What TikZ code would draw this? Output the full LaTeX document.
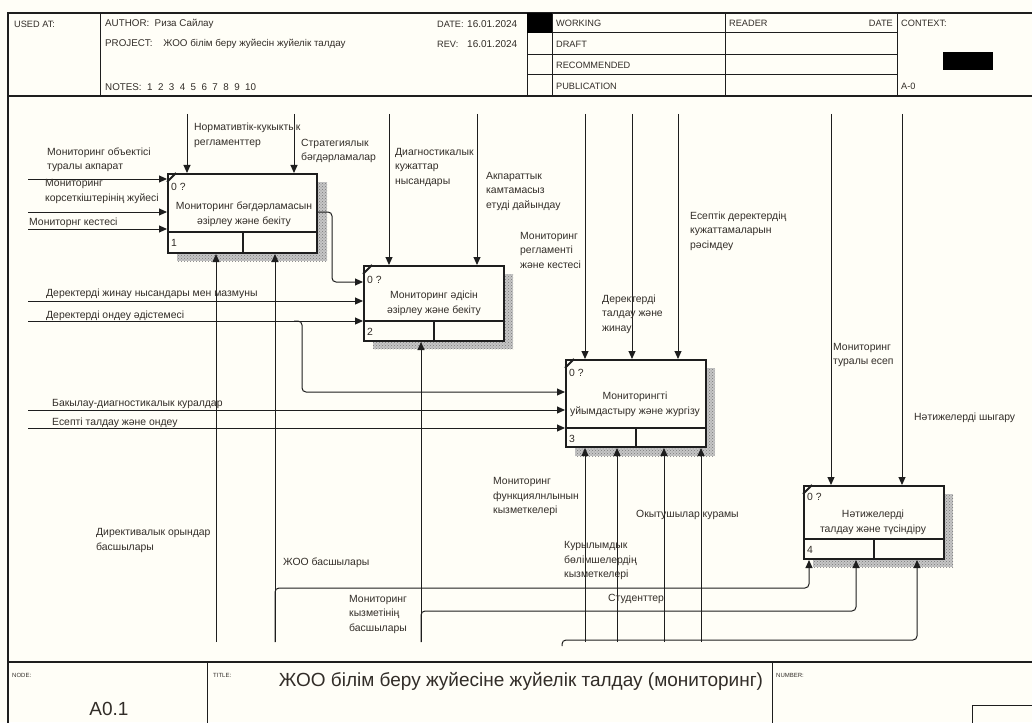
\documentclass[tikz,border=0pt]{standalone}
\usepackage{fontspec}
\setmainfont{Liberation Sans}
\usetikzlibrary{arrows.meta,patterns}
\definecolor{bg}{RGB}{255,254,247}
\definecolor{ink}{RGB}{30,30,30}
\definecolor{txt}{RGB}{50,45,40}
\begin{document}
\begin{tikzpicture}[x=1pt,y=-1pt,
  frame/.style={draw=ink,line width=1.3pt},
  thinl/.style={draw=ink,line width=1pt},
  box/.style={draw=ink,line width=2pt,fill=bg,inner sep=0pt,anchor=north west},
  divl/.style={draw=ink,line width=2pt},
  shdA/.style={fill=gray!45},
  shdB/.style={pattern=crosshatch dots,pattern color=gray!95!black},
  arr/.style={draw=ink,line width=1pt,-{Triangle[length=8pt,width=7pt]},rounded corners=4pt},
  lbl/.style={font=\fontsize{10.4}{14.5}\selectfont,text=txt,anchor=west,inner sep=0pt,align=left},
  btxt/.style={font=\fontsize{10.4}{15}\selectfont,text=txt,inner sep=0pt,align=center},
  hd/.style={font=\fontsize{9.2}{11}\selectfont,text=txt,anchor=west,inner sep=0pt},
  hdw/.style={font=\fontsize{9.8}{11}\selectfont,text=txt,anchor=west,inner sep=0pt},
  hdv/.style={font=\fontsize{10}{11}\selectfont,text=txt,anchor=west,inner sep=0pt},
  tinyl/.style={font=\fontsize{6}{7}\selectfont,text=txt,anchor=west,inner sep=0pt},
]
\fill[bg] (0,0) rectangle (1032,722);
\useasboundingbox (0,0) rectangle (1032,722);
\clip (0,0) rectangle (1032,722);

% ---------- frame and header ----------
\draw[frame] (1040,13) -- (8,13) -- (8,730);
\draw[frame] (8,96) -- (1040,96);
\draw[thinl] (100,13) -- (100,96);
\draw[thinl] (527,13) -- (527,96);
\draw[thinl] (552,13) -- (552,96);
\draw[thinl] (725,13) -- (725,96);
\draw[thinl] (897,13) -- (897,96);
\draw[thinl] (527,33) -- (897,33);
\draw[thinl] (527,55) -- (897,55);
\draw[thinl] (527,75) -- (897,75);
\fill[black] (527,13) rectangle (552,33);
\fill[black] (943,52) rectangle (993,70);

\node[hd] (usedat) at (14,24) {USED AT:};
\node[hdw] (author) at (105,24) {AUTHOR:\ \ Риза Сайлау};
\node[hdw] (project) at (105,44) {PROJECT:\ \ \ \ ЖОО білім беру жуйесін жуйелік талдау};
\node[hdw] (notes) at (105,87) {NOTES:\ \ 1\ \ 2\ \ 3\ \ 4\ \ 5\ \ 6\ \ 7\ \ 8\ \ 9\ \ 10};
\node[hd] (datel) at (437,24) {DATE:};
\node[hdv] (datev) at (467,24) {16.01.2024};
\node[hd] (revl) at (437,44) {REV:};
\node[hdv] (revv) at (467,44) {16.01.2024};
\node[hd] (working) at (556,23.5) {WORKING};
\node[hd] (draft) at (556,44.5) {DRAFT};
\node[hd] (recom) at (556,65.5) {RECOMMENDED};
\node[hd] (publ) at (556,86) {PUBLICATION};
\node[hd] (reader) at (729,23.5) {READER};
\node[hd,anchor=east] (rdate) at (893,23.5) {DATE};
\node[hd] (context) at (901,23.5) {CONTEXT:};
\node[hd] (azero) at (901,86.5) {A-0};

% ---------- footer ----------
\draw[frame] (8,662) -- (1040,662);
\draw[thinl] (207,662) -- (207,730);
\draw[thinl] (772,662) -- (772,730);
\draw[thinl] (972,730) -- (972,705) -- (1040,705);
\node[tinyl] (nodel) at (12,675) {NODE:};
\node[tinyl] (titlel) at (213,675) {TITLE:};
\node[tinyl] (numl) at (776,675) {NUMBER:};
\node[font=\fontsize{19}{21}\selectfont,text=txt,inner sep=0pt] (title) at (521,681) {ЖОО білім беру жуйесіне жуйелік талдау (мониторинг)};
\node[font=\fontsize{19}{21}\selectfont,text=txt,inner sep=0pt] (nodeid) at (109,709) {A0.1};

% ---------- shadows ----------
\foreach \a/\b/\c/\d in {177/182/327/261, 373/274/513/349, 575/368/715/456, 813/494/953/567}{
  \fill[shdA] (\a,\b) rectangle (\c,\d);
  \fill[shdB] (\a,\b) rectangle (\c,\d);
}

% ---------- boxes ----------
\node[box,minimum width=149pt,minimum height=79pt] (b1) at (167,173) {};
\node[box,minimum width=140pt,minimum height=75pt] (b2) at (363,265) {};
\node[box,minimum width=140pt,minimum height=87pt] (b3) at (565,359) {};
\node[box,minimum width=140pt,minimum height=73pt] (b4) at (803,485) {};

\draw[divl] (167,232) -- (316,232) (243,232) -- (243,252);
\draw[divl] (363,321) -- (503,321) (434,321) -- (434,340);
\draw[divl] (565,428) -- (705,428) (636,428) -- (636,446);
\draw[divl] (803,539) -- (943,539) (874,539) -- (874,558);
\draw[divl] (167,182) -- (176,173);
\draw[divl] (363,274) -- (372,265);
\draw[divl] (565,368) -- (574,359);
\draw[divl] (803,494) -- (812,485);

\node[lbl] (q1) at (171,187) {0 ?};
\node[lbl] (q2) at (367,280) {0 ?};
\node[lbl] (q3) at (569,373) {0 ?};
\node[lbl] (q4) at (807,497) {0 ?};
\node[lbl] (n1) at (171,243) {1};
\node[lbl] (n2) at (367,332) {2};
\node[lbl] (n3) at (569,439) {3};
\node[lbl] (n4) at (807,550) {4};

\node[btxt] (t1) at (244,214) {Мониторинг бәгдәрламасын\\әзірлеу және бекіту};
\node[btxt] (t2) at (434,303) {Мониторинг әдісін\\әзірлеу және бекіту};
\node[btxt] (t3) at (635,404.5) {Мониторингті\\уйымдастыру және жургізу};
\node[btxt] (t4) at (873,522) {Нәтижелерді\\талдау және түсіндіру};

% ---------- inputs ----------
\coordinate (i11) at (28,179);
\coordinate (i12) at (28,212);
\coordinate (i13) at (28,229);
\coordinate (i21) at (28,301);
\coordinate (i22) at (28,321);
\coordinate (i31) at (28,410);
\coordinate (i32) at (28,428);
\draw[arr] (i11) -- (i11 -| b1.west);
\draw[arr] (i12) -- (i12 -| b1.west);
\draw[arr] (i13) -- (i13 -| b1.west);
\draw[arr] (i21) -- (i21 -| b2.west);
\draw[arr] (i22) -- (i22 -| b2.west);
\draw[arr] (i31) -- (i31 -| b3.west);
\draw[arr] (i32) -- (i32 -| b3.west);
% output of box 1 into box 2
\coordinate (o1) at (316,212);
\coordinate (o1b) at (332,282);
\draw[arr] (o1) -| (o1b) -- (o1b -| b2.west);
% branch of input 22 into box 3
\coordinate (br1) at (294,321);
\coordinate (br1b) at (302,392);
\draw[arr] (br1) -| (br1b) -- (br1b -| b3.west);

% ---------- controls ----------
\coordinate (c11) at (187,114);
\coordinate (c12) at (294,114);
\coordinate (c21) at (389,114);
\coordinate (c22) at (477,114);
\coordinate (c31) at (585,114);
\coordinate (c32) at (632,114);
\coordinate (c33) at (678,114);
\coordinate (c41) at (831,114);
\coordinate (c42) at (902,114);
\draw[arr] (c11) -- (c11 |- b1.north);
\draw[arr] (c12) -- (c12 |- b1.north);
\draw[arr] (c21) -- (c21 |- b2.north);
\draw[arr] (c22) -- (c22 |- b2.north);
\draw[arr] (c31) -- (c31 |- b3.north);
\draw[arr] (c32) -- (c32 |- b3.north);
\draw[arr] (c33) -- (c33 |- b3.north);
\draw[arr] (c41) -- (c41 |- b4.north);
\draw[arr] (c42) -- (c42 |- b4.north);

% ---------- mechanisms ----------
\coordinate (m11) at (216,642);
\coordinate (m12) at (275,642);
\coordinate (m21) at (421,642);
\coordinate (m31) at (585,642);
\coordinate (m32) at (617,642);
\coordinate (m33) at (664,642);
\coordinate (m34) at (701,642);
\coordinate (m4s) at (562,646);
\coordinate (k41) at (809,588);
\coordinate (k42) at (856,611);
\coordinate (k43) at (917,640);
\draw[arr] (m11) -- (m11 |- b1.south);
\draw[arr] (m12) -- (m12 |- b1.south);
\draw[arr] (m21) -- (m21 |- b2.south);
\draw[arr] (m31) -- (m31 |- b3.south);
\draw[arr] (m32) -- (m32 |- b3.south);
\draw[arr] (m33) -- (m33 |- b3.south);
\draw[arr] (m34) -- (m34 |- b3.south);
\draw[arr] (m12) |- (k41) -- (k41 |- b4.south);
\draw[arr] (m21) |- (k42) -- (k42 |- b4.south);
\draw[arr] (m4s) |- (k43) -- (k43 |- b4.south);

% ---------- labels ----------
\node[lbl] (l1) at (47,160) {Мониторинг объектісі\\туралы акпарат};
\node[lbl] (l2) at (45,191.5) {Мониторинг\\корсеткіштерінің жуйесі};
\node[lbl] (l3) at (29,223) {Мониторнг кестесі};
\node[lbl] (l4) at (194,135.5) {Нормативтік-кукыктык\\регламенттер};
\node[lbl] (l5) at (301,151) {Стратегиялык\\бәгдәрламалар};
\node[lbl] (l6) at (395,167.5) {Диагностикалык\\кужаттар\\нысандары};
\node[lbl] (l7) at (486,191.5) {Акпараттык\\камтамасыз\\етуді дайындау};
\node[lbl] (l8) at (520,250) {Мониторинг\\регламенті\\және кестесі};
\node[lbl] (l9) at (602,314) {Деректерді\\талдау және\\жинау};
\node[lbl] (l10) at (690,231) {Есептік деректердің\\кужаттамаларын\\рәсімдеу};
\node[lbl] (l11) at (833,355) {Мониторинг\\туралы есеп};
\node[lbl] (l12) at (914,418) {Нәтижелерді шыгару};
\node[lbl] (l13) at (46,294) {Деректерді жинау нысандары мен мазмуны};
\node[lbl] (l14) at (46,316) {Деректерді ондеу әдістемесі};
\node[lbl] (l15) at (52,404) {Бакылау-диагностикалык куралдар};
\node[lbl] (l16) at (52,423) {Есепті талдау және ондеу};
\node[lbl] (l17) at (96,540.5) {Директивалык орындар\\басшылары};
\node[lbl] (l18) at (283,563) {ЖОО басшылары};
\node[lbl] (l19) at (349,614) {Мониторинг\\кызметінің\\басшылары};
\node[lbl] (l20) at (493,496.5) {Мониторинг\\функциялнлынын\\кызметкелері};
\node[lbl] (l21) at (636,515) {Окытушылар курамы};
\node[lbl] (l22) at (564,560.5) {Курылымдык\\бөлімшелердің\\кызметкелері};
\node[lbl] (l23) at (608,599) {Студенттер};
\end{tikzpicture}
\end{document}
